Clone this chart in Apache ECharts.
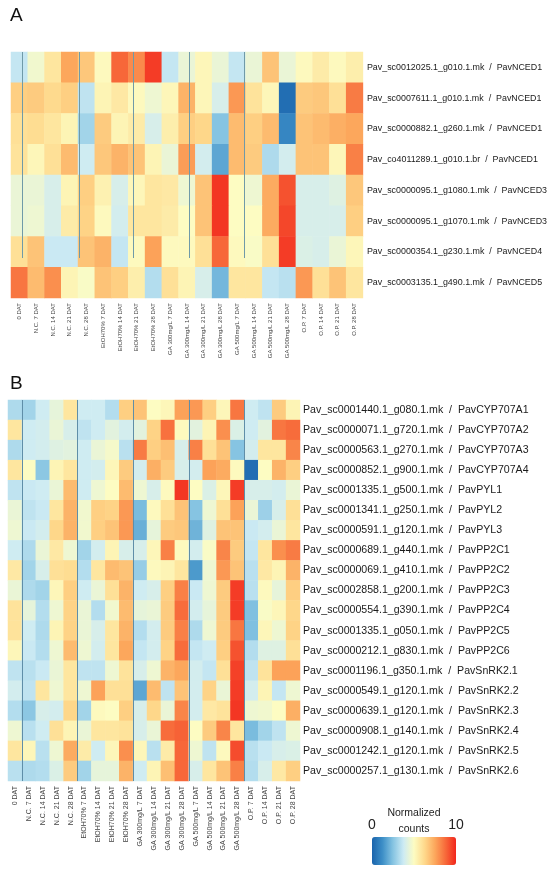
<!DOCTYPE html>
<html>
<head>
<meta charset="utf-8">
<script src="https://cdn.jsdelivr.net/npm/echarts@6/dist/echarts.min.js"></script>
<style>
  html, body { margin: 0; padding: 0; background: #fff; }
  #chart { width: 550px; height: 870px; }
</style>
</head>
<body>
<div id="chart"></div>
<script>
// sample columns (shared by both panels)
const samples = [
  '0 DAT',
  'N.C. 7 DAT', 'N.C. 14 DAT', 'N.C. 21 DAT', 'N.C. 28 DAT',
  'EtOH70% 7 DAT', 'EtOH70% 14 DAT', 'EtOH70% 21 DAT', 'EtOH70% 28 DAT',
  'GA 300mg/L 7 DAT', 'GA 300mg/L 14 DAT', 'GA 300mg/L 21 DAT', 'GA 300mg/L 28 DAT',
  'GA 500mg/L 7 DAT', 'GA 500mg/L 14 DAT', 'GA 500mg/L 21 DAT', 'GA 500mg/L 28 DAT',
  'O.P. 7 DAT', 'O.P. 14 DAT', 'O.P. 21 DAT', 'O.P. 28 DAT'
]

// panel A genes
const idsA = [
  'Pav_sc0012025.1_g010.1.mk', 'Pav_sc0007611.1_g010.1.mk', 'Pav_sc0000882.1_g260.1.mk',
  'Pav_co4011289.1_g010.1.br', 'Pav_sc0000095.1_g1080.1.mk', 'Pav_sc0000095.1_g1070.1.mk',
  'Pav_sc0000354.1_g230.1.mk', 'Pav_sc0003135.1_g490.1.mk'
]
const namesA = ['PavNCED1', 'PavNCED1', 'PavNCED1', 'PavNCED1', 'PavNCED3', 'PavNCED3', 'PavNCED4', 'PavNCED5']

// normalized counts, panel A (one row per gene)
const valuesA = [
  [3.6, 4.7, 5.8, 7.5, 6.7, 5.1, 8.8, 8.1, 9.6, 3.6, 4.5, 5.2, 4.5, 3.6, 4.5, 6.8, 4.5, 5.1, 5.6, 5.1, 5.5],
  [6.5, 6.6, 6.2, 6.5, 3.5, 5.3, 5.7, 5.1, 4.6, 5.2, 7.2, 5.2, 4.0, 7.8, 5.9, 5.2, 0.3, 6.6, 6.7, 6.0, 8.4],
  [6.0, 6.1, 5.8, 5.3, 3.0, 6.6, 5.3, 5.6, 4.0, 5.5, 6.5, 6.3, 2.5, 7.0, 6.5, 7.0, 1.0, 6.8, 7.0, 7.3, 7.5],
  [5.9, 5.2, 6.0, 7.0, 3.8, 6.7, 7.2, 6.8, 5.3, 4.5, 7.7, 3.9, 1.8, 7.0, 6.6, 3.2, 3.9, 6.8, 6.8, 5.2, 8.3],
  [4.5, 4.5, 4.0, 5.3, 6.5, 5.4, 4.0, 5.2, 5.8, 5.7, 4.6, 6.8, 9.7, 5.0, 4.6, 7.4, 9.2, 4.0, 4.0, 4.2, 6.7],
  [4.5, 4.6, 4.0, 5.6, 6.4, 5.1, 3.9, 5.8, 5.8, 5.6, 5.0, 6.8, 9.7, 5.0, 5.0, 7.4, 9.4, 4.0, 4.0, 4.0, 6.5],
  [6.0, 6.8, 3.7, 3.7, 6.8, 7.2, 3.6, 5.1, 7.6, 5.1, 5.1, 6.0, 8.8, 5.1, 4.9, 6.0, 9.6, 4.1, 4.0, 4.5, 5.2],
  [8.5, 7.0, 8.0, 5.3, 4.9, 6.8, 6.5, 5.5, 3.3, 6.0, 5.3, 4.0, 2.2, 5.8, 5.8, 3.6, 3.4, 7.8, 6.0, 6.8, 5.8]
]

// panel B genes
const idsB = [
  'Pav_sc0001440.1_g080.1.mk', 'Pav_sc0000071.1_g720.1.mk', 'Pav_sc0000563.1_g270.1.mk',
  'Pav_sc0000852.1_g900.1.mk', 'Pav_sc0001335.1_g500.1.mk', 'Pav_sc0001341.1_g250.1.mk',
  'Pav_sc0000591.1_g120.1.mk', 'Pav_sc0000689.1_g440.1.mk', 'Pav_sc0000069.1_g410.1.mk',
  'Pav_sc0002858.1_g200.1.mk', 'Pav_sc0000554.1_g390.1.mk', 'Pav_sc0001335.1_g050.1.mk',
  'Pav_sc0000212.1_g830.1.mk', 'Pav_sc0001196.1_g350.1.mk', 'Pav_sc0000549.1_g120.1.mk',
  'Pav_sc0000639.1_g120.1.mk', 'Pav_sc0000908.1_g140.1.mk', 'Pav_sc0001242.1_g120.1.mk',
  'Pav_sc0000257.1_g130.1.mk'
]
const namesB = [
  'PavCYP707A1', 'PavCYP707A2', 'PavCYP707A3', 'PavCYP707A4', 'PavPYL1', 'PavPYL2', 'PavPYL3',
  'PavPP2C1', 'PavPP2C2', 'PavPP2C3', 'PavPP2C4', 'PavPP2C5', 'PavPP2C6',
  'PavSnRK2.1', 'PavSnRK2.2', 'PavSnRK2.3', 'PavSnRK2.4', 'PavSnRK2.5', 'PavSnRK2.6'
]

// normalized counts, panel B
const valuesB = [
  [3.2, 3.0, 3.8, 4.4, 5.8, 3.8, 3.8, 3.3, 6.5, 6.8, 5.0, 5.2, 7.6, 7.8, 6.5, 5.2, 8.5, 3.8, 3.5, 6.6, 5.3],
  [5.8, 3.8, 3.9, 4.5, 4.0, 3.5, 3.8, 4.3, 3.9, 4.3, 6.4, 8.6, 5.1, 4.3, 5.3, 8.0, 4.1, 3.8, 4.3, 8.5, 8.7],
  [3.2, 3.8, 3.9, 4.2, 4.3, 3.8, 4.5, 4.8, 3.4, 8.4, 6.5, 6.9, 4.0, 8.3, 6.0, 6.8, 2.5, 3.9, 5.8, 5.8, 8.2],
  [5.8, 5.0, 2.6, 5.3, 5.8, 3.8, 3.9, 5.2, 6.6, 3.9, 7.3, 6.6, 4.0, 3.9, 7.6, 7.4, 5.1, 0.3, 5.0, 7.2, 6.5],
  [3.5, 3.7, 3.8, 4.5, 7.0, 3.8, 4.6, 5.0, 7.0, 4.6, 4.0, 5.1, 9.7, 5.0, 4.1, 5.2, 9.6, 4.0, 4.0, 3.9, 4.5],
  [4.5, 3.5, 3.7, 5.8, 7.2, 4.7, 6.5, 6.4, 7.8, 2.3, 5.1, 6.0, 6.8, 2.5, 4.6, 6.0, 7.6, 4.5, 2.9, 4.0, 6.0],
  [4.6, 3.7, 3.9, 6.3, 7.2, 4.7, 6.5, 6.8, 7.8, 2.0, 4.4, 6.6, 6.7, 2.1, 4.2, 6.8, 6.8, 3.7, 3.9, 4.5, 5.8],
  [3.8, 3.2, 4.5, 5.7, 4.6, 3.0, 3.9, 5.3, 4.0, 4.0, 5.2, 8.3, 5.1, 3.9, 4.9, 8.2, 6.6, 3.6, 5.8, 8.0, 8.4],
  [5.7, 3.0, 4.0, 6.0, 6.1, 3.3, 5.8, 7.0, 6.8, 2.8, 5.1, 5.3, 5.8, 1.5, 4.6, 7.8, 6.8, 3.4, 5.7, 5.3, 7.2],
  [4.5, 3.2, 3.0, 5.2, 6.5, 3.8, 4.5, 6.0, 7.2, 3.8, 4.0, 6.5, 8.3, 3.7, 4.6, 6.6, 9.6, 3.4, 5.1, 4.4, 6.5],
  [5.9, 4.4, 3.3, 4.6, 6.4, 4.5, 3.3, 4.7, 7.0, 4.4, 4.5, 6.6, 8.7, 3.9, 4.4, 6.6, 9.6, 2.4, 4.9, 5.2, 6.3],
  [5.9, 3.8, 3.2, 5.3, 6.4, 4.5, 4.0, 5.8, 7.2, 3.3, 3.9, 6.6, 8.3, 3.2, 4.6, 6.6, 8.5, 2.4, 5.2, 4.6, 6.4],
  [5.2, 3.7, 3.3, 4.6, 7.0, 4.6, 3.9, 5.8, 7.5, 3.6, 3.9, 6.4, 8.7, 3.6, 3.8, 6.5, 9.2, 3.3, 4.2, 4.2, 6.0],
  [3.5, 3.4, 3.7, 4.5, 5.8, 3.5, 3.5, 4.6, 5.9, 4.0, 4.6, 7.2, 7.5, 3.9, 3.6, 6.0, 9.5, 3.5, 5.9, 7.6, 7.6],
  [3.9, 3.5, 5.8, 4.6, 5.8, 4.6, 7.6, 6.0, 6.0, 1.8, 7.0, 3.5, 6.8, 3.9, 6.4, 4.5, 9.6, 3.9, 5.3, 3.6, 4.6],
  [3.3, 2.6, 4.0, 3.9, 6.3, 3.0, 5.1, 5.0, 6.5, 4.0, 6.3, 4.5, 8.2, 3.9, 5.7, 5.9, 9.7, 4.6, 4.7, 5.0, 7.3],
  [4.6, 3.4, 3.8, 6.0, 5.3, 4.5, 5.8, 5.8, 5.9, 4.0, 4.5, 8.7, 8.9, 5.0, 6.6, 8.2, 5.8, 2.3, 3.0, 3.5, 4.6],
  [5.8, 5.2, 3.4, 4.6, 7.4, 5.6, 3.8, 5.2, 8.0, 5.2, 3.4, 5.6, 8.8, 4.6, 3.5, 5.1, 9.3, 3.4, 3.7, 4.0, 4.1],
  [3.4, 3.2, 3.3, 4.1, 6.6, 3.0, 4.4, 4.4, 7.2, 3.8, 5.3, 6.9, 8.8, 4.0, 5.8, 6.8, 8.3, 3.3, 4.0, 5.7, 6.5]
]

// vertical separator lines (in column units) and how far down they run (in row units)
const sepA = [0.7, 4.05, 7.32, 10.65, 13.92]
const sepAEnd = 6.7
const sepB = [1, 5, 9, 13, 17]
const sepBEnd = 19

const colorScale = ['#1a64ad', '#3d8fc7', '#86c4e2', '#cdebf4', '#fdfcc2', '#fed98c', '#fca75c', '#f76a3a', '#f2261c']

const FONT = "'Liberation Sans', Arial, sans-serif"

const toCells = (rows) => {
  const out = []
  rows.forEach((row, r) => row.forEach((v, c) => out.push([c, r, v])))
  return out
}
const toSeps = (xs, yEnd) => xs.map(x => ({ coords: [[x, 0], [x, yEnd]] }))

const chart = echarts.init(document.getElementById('chart'), null, { renderer: 'canvas' })

const catX = (gridIndex, fontSize) => ({
  type: 'category',
  gridIndex,
  data: samples,
  axisLine: { show: false },
  axisTick: { show: false },
  splitLine: { show: false },
  axisLabel: { interval: 0, rotate: 90, fontSize, margin: 5, color: '#444', fontFamily: FONT }
})
const catY = (gridIndex, ids, names, fontSize, margin) => ({
  type: 'category',
  gridIndex,
  position: 'right',
  inverse: true,
  data: ids.map((id, i) => id + '  /  ' + names[i]),
  axisLine: { show: false },
  axisTick: { show: false },
  splitLine: { show: false },
  axisLabel: { interval: 0, fontSize, margin, color: '#1a1a1a', fontFamily: FONT }
})
const valX = (gridIndex) => ({ type: 'value', gridIndex, min: 0, max: samples.length, show: false })
const valY = (gridIndex, n) => ({ type: 'value', gridIndex, min: 0, max: n, inverse: true, show: false })

const option = {
  animation: false,
  grid: [
    { left: 11, top: 52, width: 353, height: 246 },
    { left: 8, top: 400, width: 292, height: 381 }
  ],
  xAxis: [catX(0, 6), catX(1, 7), valX(0), valX(1)],
  yAxis: [
    catY(0, idsA, namesA, 8.9, 4),
    catY(1, idsB, namesB, 10.6, 3),
    valY(0, idsA.length),
    valY(1, idsB.length)
  ],
  visualMap: {
    type: 'continuous',
    min: 0,
    max: 10,
    seriesIndex: [0, 1],
    orient: 'horizontal',
    left: 372,
    top: 837,
    padding: 0,
    itemWidth: 28,
    itemHeight: 84,
    calculable: false,
    hoverLink: false,
    inRange: { color: colorScale }
  },
  graphic: [
    { type: 'text', left: 10, top: 6, style: { text: 'A', fontSize: 19, fontFamily: FONT, fill: '#111' } },
    { type: 'text', left: 10, top: 374, style: { text: 'B', fontSize: 19, fontFamily: FONT, fill: '#111' } },
    { type: 'text', x: 414, y: 813, style: { text: 'Normalized', fontSize: 10.5, fontFamily: FONT, fill: '#222', align: 'center', verticalAlign: 'middle' } },
    { type: 'text', x: 414, y: 829, style: { text: 'counts', fontSize: 10.5, fontFamily: FONT, fill: '#222', align: 'center', verticalAlign: 'middle' } },
    { type: 'text', x: 372, y: 825, style: { text: '0', fontSize: 14, fontFamily: FONT, fill: '#222', align: 'center', verticalAlign: 'middle' } },
    { type: 'text', x: 456, y: 825, style: { text: '10', fontSize: 14, fontFamily: FONT, fill: '#222', align: 'center', verticalAlign: 'middle' } }
  ],
  series: [
    {
      type: 'heatmap',
      xAxisIndex: 0,
      yAxisIndex: 0,
      data: toCells(valuesA),
      itemStyle: { borderWidth: 0 },
      emphasis: { disabled: true }
    },
    {
      type: 'heatmap',
      xAxisIndex: 1,
      yAxisIndex: 1,
      data: toCells(valuesB),
      itemStyle: { borderWidth: 0 },
      emphasis: { disabled: true }
    },
    {
      type: 'lines',
      coordinateSystem: 'cartesian2d',
      xAxisIndex: 2,
      yAxisIndex: 2,
      data: toSeps(sepA, sepAEnd),
      lineStyle: { color: '#6f9aa8', width: 1, opacity: 1 },
      silent: true,
      z: 5
    },
    {
      type: 'lines',
      coordinateSystem: 'cartesian2d',
      xAxisIndex: 3,
      yAxisIndex: 3,
      data: toSeps(sepB, sepBEnd),
      lineStyle: { color: '#5f8ea8', width: 1, opacity: 1 },
      silent: true,
      z: 5
    }
  ]
}

chart.setOption(option)
</script>
</body>
</html>
